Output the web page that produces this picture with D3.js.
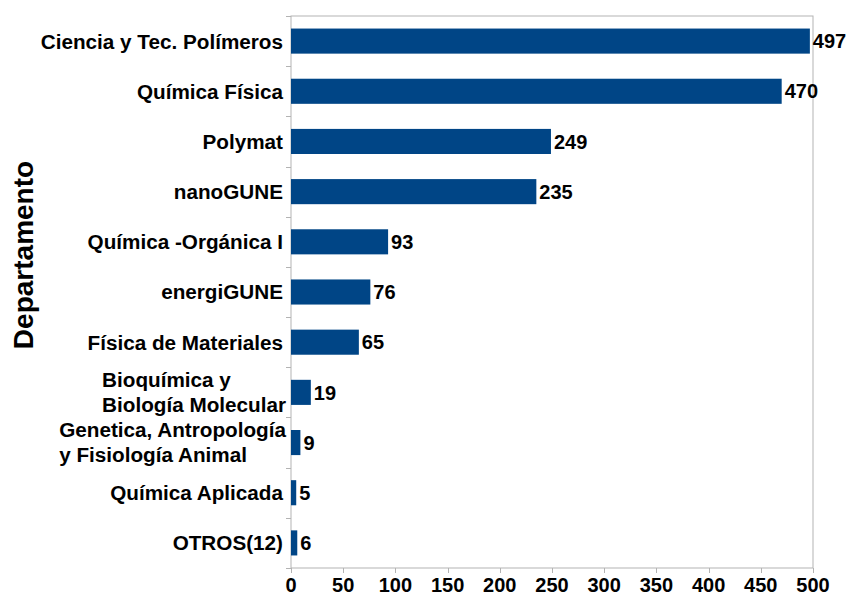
<!DOCTYPE html>
<html>
<head>
<meta charset="utf-8">
<script src="https://cdn.jsdelivr.net/npm/d3@7"></script>
<style>
  body { margin: 0; background: #fff; }
  svg text { font-family: "Liberation Sans", Arial, sans-serif; font-weight: bold; fill: #000; }
</style>
</head>
<body>
<svg id="chart"></svg>
<script>
const categories = [
  "Ciencia y Tec. Polímeros",
  "Química Física",
  "Polymat",
  "nanoGUNE",
  "Química -Orgánica I",
  "energiGUNE",
  "Física de Materiales",
  "Bioquímica y\nBiología Molecular",
  "Genetica, Antropología\ny Fisiología Animal",
  "Química Aplicada",
  "OTROS(12)"
];
const values = [497, 470, 249, 235, 93, 76, 65, 19, 9, 5, 6];
const xTicks = [0, 50, 100, 150, 200, 250, 300, 350, 400, 450, 500];

const width = 850;
const height = 596;
const margin = { top: 16, right: 37, bottom: 28, left: 291 };

const svg = d3.select("#chart").attr("width", width).attr("height", height);

const x = d3.scaleLinear()
  .domain([0, 500])
  .range([margin.left, width - margin.right]);

const y = d3.scaleBand()
  .domain(categories)
  .range([margin.top, height - margin.bottom])
  .paddingInner(0.5)
  .paddingOuter(0.25);

const bandStep = y.step();
const plotBottom = height - margin.bottom;

// frame
svg.append("rect")
  .attr("x", x(0))
  .attr("y", margin.top)
  .attr("width", x(500) - x(0))
  .attr("height", plotBottom - margin.top)
  .attr("fill", "none")
  .attr("stroke", "#b3b3b3")
  .attr("stroke-width", 1);

// y ticks at band boundaries
for (let i = 0; i <= categories.length; i++) {
  const yy = Math.round(margin.top + i * bandStep) + 0.5;
  svg.append("line")
    .attr("x1", x(0) - 5).attr("x2", x(0))
    .attr("y1", yy).attr("y2", yy)
    .attr("stroke", "#b3b3b3");
}

// x ticks
svg.selectAll(".xtick")
  .data(xTicks)
  .join("line")
  .attr("x1", d => Math.round(x(d)) + 0.5)
  .attr("x2", d => Math.round(x(d)) + 0.5)
  .attr("y1", plotBottom)
  .attr("y2", plotBottom + 5)
  .attr("stroke", "#b3b3b3");

svg.selectAll(".xlabel")
  .data(xTicks)
  .join("text")
  .attr("x", d => x(d))
  .attr("y", plotBottom + 24)
  .attr("text-anchor", "middle")
  .attr("font-size", "20px")
  .text(d => d);

// bars
svg.selectAll(".bar")
  .data(values)
  .join("rect")
  .attr("x", x(0))
  .attr("y", (d, i) => y(categories[i]))
  .attr("width", d => x(d) - x(0))
  .attr("height", y.bandwidth())
  .attr("fill", "#004586");

// value labels
svg.selectAll(".val")
  .data(values)
  .join("text")
  .attr("x", d => x(d) + 3)
  .attr("y", (d, i) => y(categories[i]) + y.bandwidth() / 2)
  .attr("dy", "0.36em")
  .attr("font-size", "20px")
  .text(d => d);

// category labels
const labelRight = x(0) - 8;
categories.forEach((c, i) => {
  const lines = c.split("\n");
  const cy = y(c) + y.bandwidth() / 2;
  const t = svg.append("text")
    .attr("font-size", "20.7px");
  if (lines.length === 1) {
    t.attr("x", labelRight)
      .attr("y", cy)
      .attr("dy", "0.36em")
      .attr("text-anchor", "end")
      .text(c);
  } else {
    const lineH = 25;
    lines.forEach((l, j) => {
      t.append("tspan")
        .attr("y", cy + (j - (lines.length - 1) / 2) * lineH)
        .attr("dy", "0.36em")
        .text(l);
    });
    const w = d3.max(t.selectAll("tspan").nodes(), n => n.getComputedTextLength());
    t.selectAll("tspan").attr("x", labelRight - w + 3);
  }
});

// y title
svg.append("text")
  .attr("transform", `translate(33, 255) rotate(-90)`)
  .attr("text-anchor", "middle")
  .attr("font-size", "28px")
  .text("Departamento");
</script>
</body>
</html>
